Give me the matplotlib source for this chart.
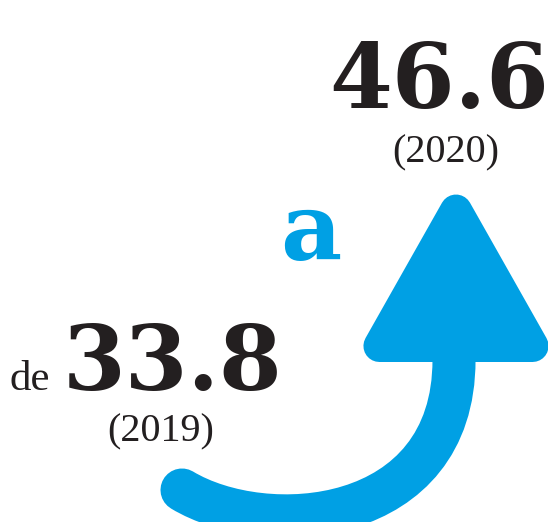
import numpy as np
import matplotlib
matplotlib.use("Agg")
import matplotlib.pyplot as plt
from matplotlib.path import Path
from matplotlib.patches import PathPatch, Polygon

# data
values = [33.8, 46.6]
years = ["2019", "2020"]
words = ["de", "a"]

BLUE = "#00a0e4"
DARK = "#231f20"

fig = plt.figure(figsize=(5.48, 5.22), dpi=100)
ax = fig.add_axes([0, 0, 1, 1])
ax.set_xlim(0, 548)
ax.set_ylim(522, 0)
ax.axis("off")

# curved shaft of the arrow
verts = [(182, 490), (265, 540), (454, 528), (454, 360)]
codes = [Path.MOVETO, Path.CURVE4, Path.CURVE4, Path.CURVE4]
shaft = PathPatch(Path(verts, codes), fill=False, edgecolor=BLUE,
                  lw=31, capstyle="round", joinstyle="round")
ax.add_patch(shaft)

# arrow head: triangle with rounded corners (shrink + thick round-join edge)
tri = np.array([(352, 362), (560, 362), (456, 178)], dtype=float)
a = np.linalg.norm(tri[1] - tri[2])
b = np.linalg.norm(tri[0] - tri[2])
c = np.linalg.norm(tri[0] - tri[1])
incenter = (a * tri[0] + b * tri[1] + c * tri[2]) / (a + b + c)
s = (a + b + c) / 2
area = abs(np.cross(tri[1] - tri[0], tri[2] - tri[0])) / 2
r_in = area / s
rad = 16
inner = incenter + (tri - incenter) * (r_in - rad) / r_in
head = Polygon(inner, closed=True, facecolor=BLUE, edgecolor=BLUE,
               lw=rad * 2 * 72 / 100, joinstyle="round")
ax.add_patch(head)

big = dict(family="DejaVu Serif", weight="bold", color=DARK, ha="center", va="baseline")
small = dict(family="Liberation Serif", color=DARK, ha="center", va="baseline")

# 2019
ax.text(30, 390, words[0], fontsize=31, **small)
ax.text(173, 390, f"{values[0]:.1f}", fontsize=65, **big)
ax.text(161, 441, f"({years[0]})", fontsize=29, **small)

# 2020
ax.text(311, 260, words[1], fontsize=68, family="DejaVu Serif", weight="bold",
        color=BLUE, ha="center", va="baseline")
ax.text(439, 108, f"{values[1]:.1f}", fontsize=65, **big)
ax.text(446, 162, f"({years[1]})", fontsize=29, **small)

fig.savefig("out.png", dpi=100)
